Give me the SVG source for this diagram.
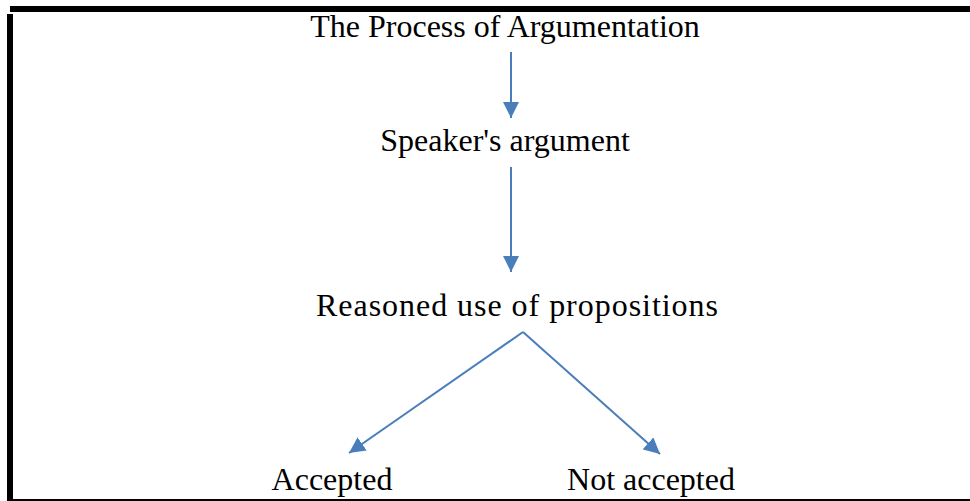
<svg xmlns="http://www.w3.org/2000/svg" width="970" height="501" viewBox="0 0 970 501">
<style>
text{font-family:"Liberation Serif","Times New Roman",serif;font-size:32px;fill:#000;text-anchor:middle}
.c{stroke:#4a7ebb;stroke-width:2;fill:none}
</style>
<defs>
<marker id="ah2" viewBox="0 0 10 10" refX="10" refY="5" markerWidth="16" markerHeight="16" markerUnits="userSpaceOnUse" orient="auto">
<path d="M0,0 L10,5 L0,10 z" fill="#4a7ebb"/>
</marker>
</defs>
<rect width="970" height="501" fill="#fff"/>
<g id="frame">
<rect x="10" y="6" width="960" height="6" fill="#000"/>
<rect x="7" y="14" width="6" height="487" fill="#000"/>
<rect x="10" y="499" width="960" height="2" fill="#000"/>
</g>
<g id="connectors">
<line class="c" x1="511" y1="52" x2="511" y2="118" marker-end="url(#ah2)"/>
<line class="c" x1="511" y1="167" x2="511" y2="272" marker-end="url(#ah2)"/>
<line class="c" x1="523" y1="332" x2="349" y2="453" marker-end="url(#ah2)"/>
<line class="c" x1="523" y1="332" x2="660" y2="454" marker-end="url(#ah2)"/>
</g>
<g id="title"><text x="505" y="37">The Process of Argumentation</text></g>
<g id="speaker"><text x="505" y="151">Speaker's argument</text></g>
<g id="reasoned"><text x="517" y="316" textLength="402" lengthAdjust="spacing">Reasoned use of propositions</text></g>
<g id="accepted"><text x="332" y="490">Accepted</text></g>
<g id="notaccepted"><text x="651" y="490">Not accepted</text></g>
</svg>
